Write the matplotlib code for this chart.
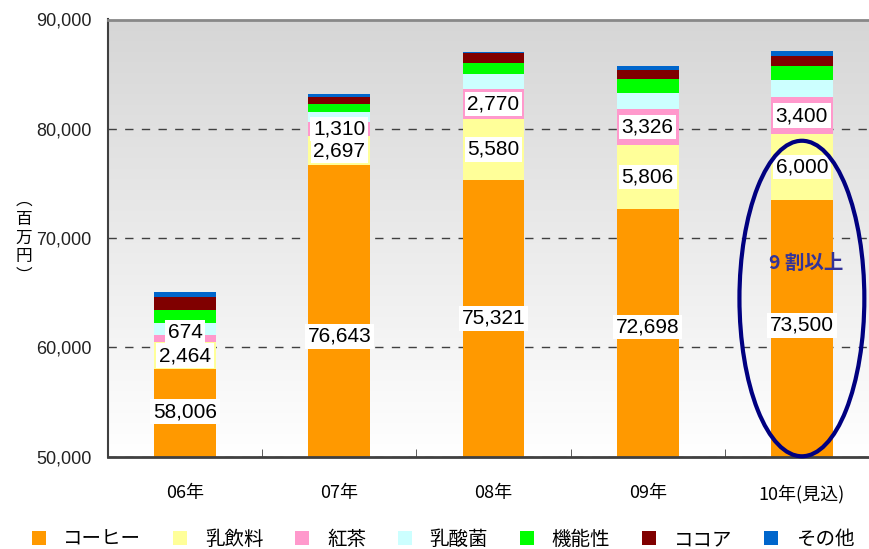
import matplotlib
matplotlib.use('Agg')
import matplotlib.pyplot as plt
import numpy as np
from matplotlib.patches import Ellipse, Patch
from matplotlib.colors import LinearSegmentedColormap

# data (百万円)
years = ['06年', '07年', '08年', '09年', '10年(見込)']
coffee = [58006, 76643, 75321, 72698, 73500]
milk_drink = [2464, 2697, 5580, 5806, 6000]
tea = [674, 1310, 2770, 3326, 3400]
lactic = [1100, 920, 1310, 1470, 1530]
functional = [1200, 730, 1070, 1280, 1280]
cocoa = [1200, 640, 890, 830, 950]
other = [370, 280, 100, 370, 430]

series_names = ['コーヒー', '乳飲料', '紅茶', '乳酸菌', '機能性', 'ココア', 'その他']
series_colors = ['#FF9900', '#FFFF99', '#FF99CC', '#CCFFFF', '#00FF00', '#800000', '#0066CC']

# label placement for the coffee values (the bars start below the axis minimum)
coffee_label_y = [54100, 61000, 62650, 61850, 62000]

cjk = ['Noto Sans CJK JP', 'DejaVu Sans']
num_font = ['Liberation Sans', 'DejaVu Sans']

fig = plt.figure(figsize=(8.69, 5.49), dpi=100)
ax = fig.add_axes([108 / 869, 92.5 / 549, 771 / 869, 437 / 549])

x = np.arange(len(years))
ax.set_xlim(-0.5, 4.5)
ax.set_ylim(50000, 90000)

# grey-to-white background
grad = np.linspace(0, 1, 256).reshape(-1, 1)
cmap = LinearSegmentedColormap.from_list('bg', ['#ffffff', '#d6d6d6'])
ax.imshow(grad, extent=[-0.5, 4.5, 50000, 90000], origin='lower', aspect='auto',
          cmap=cmap, zorder=0)

ax.set_axisbelow(True)
ax.yaxis.grid(True, color='#404040', linestyle=(0, (6, 6)), linewidth=1)

stack = [coffee, milk_drink, tea, lactic, functional, cocoa, other]
bottom = np.zeros(len(years))
bar_w = 0.40
for vals, col in zip(stack, series_colors):
    ax.bar(x, vals, bar_w, bottom=bottom, color=col, zorder=2)
    bottom = bottom + np.array(vals)

box = dict(facecolor='white', edgecolor='none', pad=2)
for i in range(len(years)):
    ax.text(x[i], coffee_label_y[i], f'{coffee[i]:,}', ha='center', va='center',
            fontsize=15, family=num_font, bbox=box, zorder=3)
    ym = coffee[i] + milk_drink[i] / 2
    ax.text(x[i], ym, f'{milk_drink[i]:,}', ha='center', va='center',
            fontsize=15, family=num_font, bbox=box, zorder=3)
    yt = coffee[i] + milk_drink[i] + tea[i] / 2
    if i == 0:
        yt += 550
    ax.text(x[i], yt, f'{tea[i]:,}', ha='center', va='center',
            fontsize=15, family=num_font, bbox=box, zorder=4)

# highlight on the 2010 bar
ax.add_patch(Ellipse((4, 64460), 0.81, 28880, fill=False, edgecolor='#000080',
                     linewidth=3, zorder=5, clip_on=False))
ax.text(4.03, 67700, '9 割以上', ha='center', va='center', color='#333399',
        fontsize=14, fontweight='bold', family=cjk, zorder=6)

# axes styling
ax.spines['right'].set_visible(False)
ax.spines['top'].set_color('#888888')
ax.spines['top'].set_linewidth(2)
ax.spines['left'].set_color('#404040')
ax.spines['left'].set_linewidth(1.5)
ax.spines['bottom'].set_color('#404040')
ax.spines['bottom'].set_linewidth(2)

ax.set_yticks([50000, 60000, 70000, 80000, 90000])
ax.set_yticklabels([f'{v:,}' for v in [50000, 60000, 70000, 80000, 90000]],
                   fontsize=13, family=num_font, color='#222222')
ax.tick_params(axis='y', length=0, pad=12)

ax.set_xticks(x)
ax.set_xticklabels(years, fontsize=13, family=cjk)
ax.tick_params(axis='x', length=0, pad=20)
ax.set_xticks(np.arange(0.5, 4.5, 1), minor=True)
ax.tick_params(axis='x', which='minor', direction='in', length=6, color='#404040')

fig.text(24 / 869, 1 - 238 / 549, '︵\n百\n万\n円\n︶', ha='center', va='center',
         fontsize=12, family=cjk, linespacing=1.15)

handles = [Patch(facecolor=c, edgecolor='none') for c in series_colors]
fig.legend(handles, series_names, loc='center', bbox_to_anchor=(443 / 869, 9.5 / 549),
           ncol=7, frameon=False, prop={'family': cjk, 'size': 14},
           handlelength=0.72, handleheight=0.72, handletextpad=0.9, columnspacing=1.65,
           borderaxespad=0, borderpad=0)

fig.savefig('out.png', dpi=100)
